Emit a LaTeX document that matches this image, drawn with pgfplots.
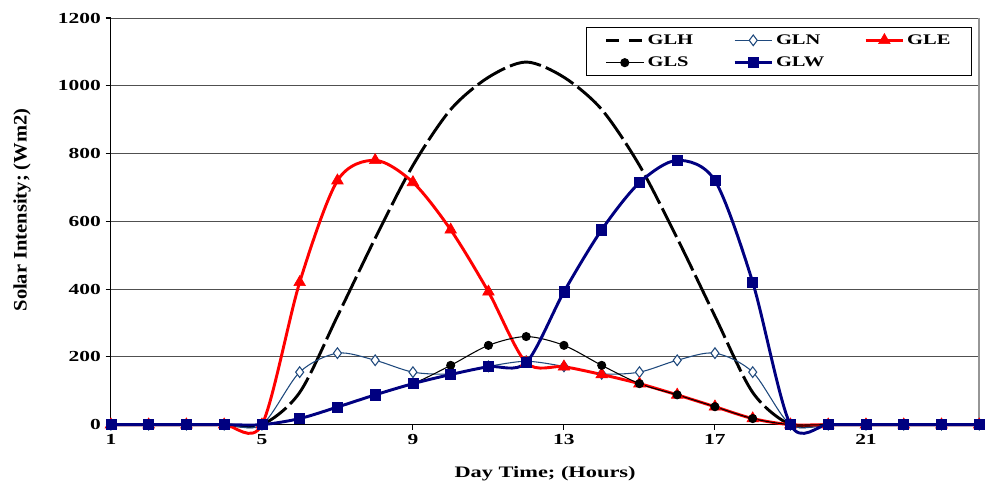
\documentclass[border=0pt]{standalone}
\usepackage{pgfplots}
\pgfplotsset{compat=1.18}
\usepackage{pgfplotstable}
\usepackage{fontspec}
\setmainfont{Liberation Serif}[FakeStretch=1.4]

\definecolor{glnblue}{RGB}{31,73,125}
\definecolor{glwnavy}{RGB}{0,0,128}
\definecolor{gridgray}{RGB}{80,80,80}
\definecolor{framegray}{RGB}{150,150,150}

% Hourly solar intensity on horizontal (GLH) and vertical N/E/S/W surfaces
\pgfplotstableread{
hour GLH  GLN GLE GLS GLW
1    0    0   0   0   0
2    0    0   0   0   0
3    0    0   0   0   0
4    0    0   0   0   0
5    0    0   0   0   0
6    95   155 420 18  18
7    320  211 720 52  52
8    550  190 780 88  88
9    765  155 715 121 121
10   930  150 575 175 148
11   1025 172 392 234 171
12   1070 187 183 260 183
13   1025 172 171 234 392
14   930  150 148 175 575
15   765  155 121 121 714
16   550  190 88  88  780
17   320  211 53  53  720
18   95   155 18  18  420
19   0    0   0   0   0
20   0    0   0   0   0
21   0    0   0   0   0
22   0    0   0   0   0
23   0    0   0   0   0
24   0    0   0   0   0
}\solar

\begin{document}
\begin{tikzpicture}
\begin{axis}[
  name=ax,
  scale only axis,
  width=651.75pt, height=305.25pt,
  xmin=1, xmax=24, ymin=0, ymax=1200,
  xtick={1,5,...,21},
  ytick={0,200,...,1200},
  ymajorgrids,
  major grid style={gridgray, line width=0.7pt},
  axis x line*=bottom, axis y line*=left,
  axis line style={black, line width=0.8pt, -},
  tick align=outside,
  major tick length=4pt,
  tick style={black, line width=0.8pt},
  clip=false,
  /pgf/number format/assume math mode=true,
  /pgf/number format/1000 sep={},
  ticklabel style={font=\fontsize{11.5}{13}\selectfont\bfseries},
  xlabel={Day Time; (Hours)},
  ylabel={\scalebox{1}[1.3]{Solar Intensity; (Wm2)}},
  every axis x label/.style={at={(rel axis cs:0.5,0)}, yshift=-36.75pt,
    anchor=center, font=\fontsize{12}{14}\selectfont\bfseries},
  every axis y label/.style={at={(rel axis cs:0,0.528)}, xshift=-66.75pt,
    rotate=90, anchor=center, font=\fontsize{11}{13}\selectfont\bfseries},
  every axis plot/.append style={smooth, tension=0.5},
  legend columns=3,
  legend cell align=left,
  legend style={
    at={(rel axis cs:0.992,0.977)}, anchor=north east,
    draw=black, line width=0.7pt, fill=white,
    font=\fontsize{11}{13}\selectfont\bfseries,
    inner xsep=14pt, inner ysep=3pt, row sep=4pt,
    /tikz/every even column/.append style={column sep=28pt},
  },
  legend image code/.code={
    \draw[mark repeat=2, mark phase=2, #1]
      plot coordinates {(0pt,0pt) (14pt,0pt) (28pt,0pt)};
  },
]
\addplot[black, line width=2.2pt, dash pattern=on 24pt off 4pt,
  legend image code/.code={
    \draw[black, line width=2.2pt, dash pattern=on 10pt off 7pt] (0pt,0pt) -- (28pt,0pt);
  }] table[x=hour, y=GLH] {\solar};
\addlegendentry{GLH}
\addplot[glnblue, line width=0.8pt, mark=diamond*, mark size=4pt,
  mark options={fill=white, solid, line width=0.8pt}] table[x=hour, y=GLN] {\solar};
\addlegendentry{GLN}
\addplot[red, line width=2.2pt, mark=triangle*, mark size=5pt,
  mark options={solid, line width=0.5pt}] table[x=hour, y=GLE] {\solar};
\addlegendentry{GLE}
\addplot[black, line width=0.8pt, mark=*, mark size=3pt,
  mark options={solid}] table[x=hour, y=GLS] {\solar};
\addlegendentry{GLS}
\addplot[glwnavy, line width=2.2pt, mark=square*, mark size=3.8pt,
  mark options={solid, line width=0.5pt}] table[x=hour, y=GLW] {\solar};
\addlegendentry{GLW}
\draw[framegray, line width=1.5pt] (rel axis cs:1,0) -- (rel axis cs:1,1);
\end{axis}
\path[use as bounding box]
  ([shift={(-83.25pt,-53.25pt)}]ax.south west) rectangle
  ([shift={(3.75pt,13.5pt)}]ax.north east);
\end{tikzpicture}
\end{document}
